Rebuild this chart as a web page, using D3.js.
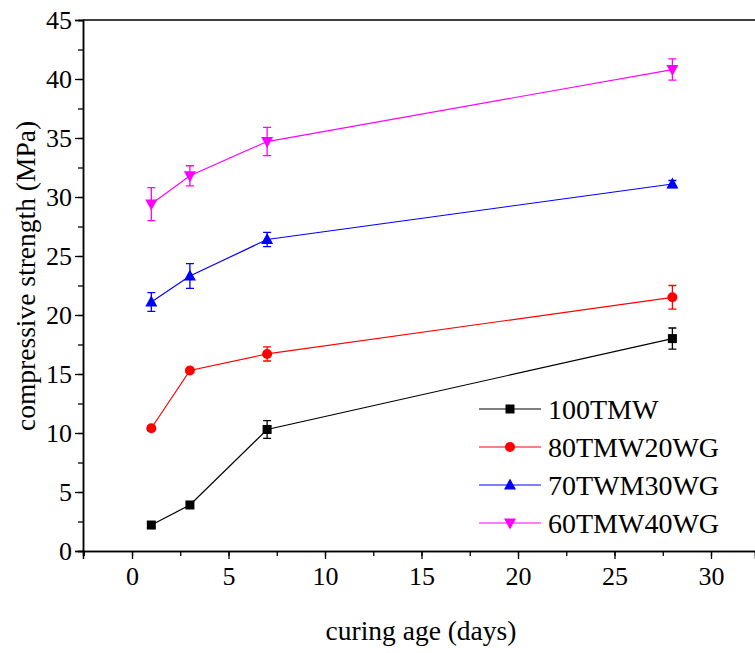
<!DOCTYPE html>
<html>
<head>
<meta charset="utf-8">
<script src="https://cdn.jsdelivr.net/npm/d3@7"></script>
<style>
  body { margin: 0; background: #fff; }
</style>
</head>
<body>
<svg id="chart" width="755" height="653" font-family="Liberation Serif"></svg>
<script>
  let days = [1, 3, 7, 28]
  let names = ["100TMW", "80TMW20WG", "70TWM30WG", "60TMW40WG"]
  let colors = ["#000000", "#ff0000", "#0000ff", "#ff00ff"]
  let shapes = ["square", "circle", "up", "down"]
  let strength = [
    [2.2, 3.9, 10.3, 18.0],
    [10.4, 15.3, 16.7, 21.5],
    [21.1, 23.3, 26.4, 31.1],
    [29.4, 31.8, 34.7, 40.8]
  ]
  let errors = [
    [0.2, 0.2, 0.75, 0.9],
    [0.2, 0.2, 0.6, 1.0],
    [0.8, 1.05, 0.6, 0.3],
    [1.4, 0.85, 1.2, 0.9]
  ]
  let serif = "Liberation Serif"

  // d3 v7 has no .attrs, add a tiny helper
  d3.selection.prototype.attrs = function (o) {
    for (let k in o) this.attr(k, o[k])
    return this
  }

  function make_scales(margin) {
    return {
      x: d3.scaleLinear().domain([-2.54, 32.28]).range([margin.left, 755]),
      y: d3.scaleLinear().domain([0, 45]).range([margin.bottom, margin.top])
    }
  }

  function marker(g, shape, color, x, y) {
    if (shape == "square") {
      g.append("rect").attrs({x: x - 4.5, y: y - 4.5, width: 9, height: 9, fill: color})
    } else if (shape == "circle") {
      g.append("circle").attrs({cx: x, cy: y, r: 5, fill: color})
    } else if (shape == "up") {
      g.append("path").attrs({d: `M${x},${y - 6.5}L${x + 6},${y + 4.5}L${x - 6},${y + 4.5}Z`, fill: color})
    } else {
      g.append("path").attrs({d: `M${x},${y + 6.5}L${x + 6},${y - 4.5}L${x - 6},${y - 4.5}Z`, fill: color})
    }
  }

  function draw_axes(svg, scales, margin) {
    let g = svg.append("g")
    let xmin = d3.range(-2.5, 32.5, 2.5)
    let ymin = d3.range(0, 45.1, 2.5)

    g.append("g")
      .attr("transform", `translate(0, ${margin.bottom})`)
      .call(d3.axisBottom(scales.x).tickValues(xmin).tickSize(5).tickFormat(""))
    g.append("g")
      .attr("transform", `translate(0, ${margin.bottom})`)
      .call(d3.axisBottom(scales.x).tickValues(d3.range(0, 31, 5)).tickSize(8).tickPadding(8))
    g.append("g")
      .attr("transform", `translate(${margin.left}, 0)`)
      .call(d3.axisLeft(scales.y).tickValues(ymin).tickSize(5).tickFormat(""))
    g.append("g")
      .attr("transform", `translate(${margin.left}, 0)`)
      .call(d3.axisLeft(scales.y).tickValues(d3.range(0, 46, 5)).tickSize(8).tickPadding(3))

    g.selectAll("g").attr("font-family", serif)
    g.selectAll(".domain").attr("stroke-width", 1.5)
    g.selectAll(".tick line").attr("stroke-width", 1.3)
    g.selectAll(".tick text").attr("font-size", 26).attr("font-family", serif).attr("fill", "#000")

    // top frame line
    g.append("line").attrs({x1: margin.left, x2: 755, y1: margin.top, y2: margin.top, stroke: "#000", "stroke-width": 1.5})

    svg.append("text")
      .attrs({x: 421, y: 640, "text-anchor": "middle", "font-size": 27.5, "font-family": serif})
      .text("curing age (days)")
    svg.append("text")
      .attrs({transform: "translate(35, 276) rotate(-90)", "text-anchor": "middle", "font-size": 27.5, "font-family": serif})
      .text("compressive strength (MPa)")
  }

  function draw_series(svg, scales) {
    let line = d3.line().x((d, i) => scales.x(days[i])).y(d => scales.y(d))
    names.forEach((name, s) => {
      let g = svg.append("g")
      g.append("path").attrs({d: line(strength[s]), fill: "none", stroke: colors[s], "stroke-width": 1.2})
      strength[s].forEach((v, i) => {
        let x = scales.x(days[i])
        let lo = scales.y(v - errors[s][i]), hi = scales.y(v + errors[s][i])
        g.append("path").attrs({
          d: `M${x},${lo}V${hi}M${x - 4},${lo}H${x + 4}M${x - 4},${hi}H${x + 4}`,
          stroke: colors[s], "stroke-width": 1.3, fill: "none"
        })
        marker(g, shapes[s], colors[s], x, scales.y(v))
      })
    })
  }

  function draw_legend(svg) {
    names.forEach((name, s) => {
      let y = 409 + s * 38
      let g = svg.append("g")
      g.append("line").attrs({x1: 479, x2: 541, y1: y, y2: y, stroke: colors[s], "stroke-width": 1.2})
      marker(g, shapes[s], colors[s], 510, y)
      g.append("text").attrs({x: 548, y: y + 10, "font-size": 28, "font-family": serif}).text(name)
    })
  }

  function visualize() {
    let margin = {top: 20, bottom: 551, left: 83}
    let svg = d3.select("#chart")
    let scales = make_scales(margin)
    draw_series(svg, scales)
    draw_axes(svg, scales, margin)
    draw_legend(svg)
  }

  visualize()
</script>
</body>
</html>
